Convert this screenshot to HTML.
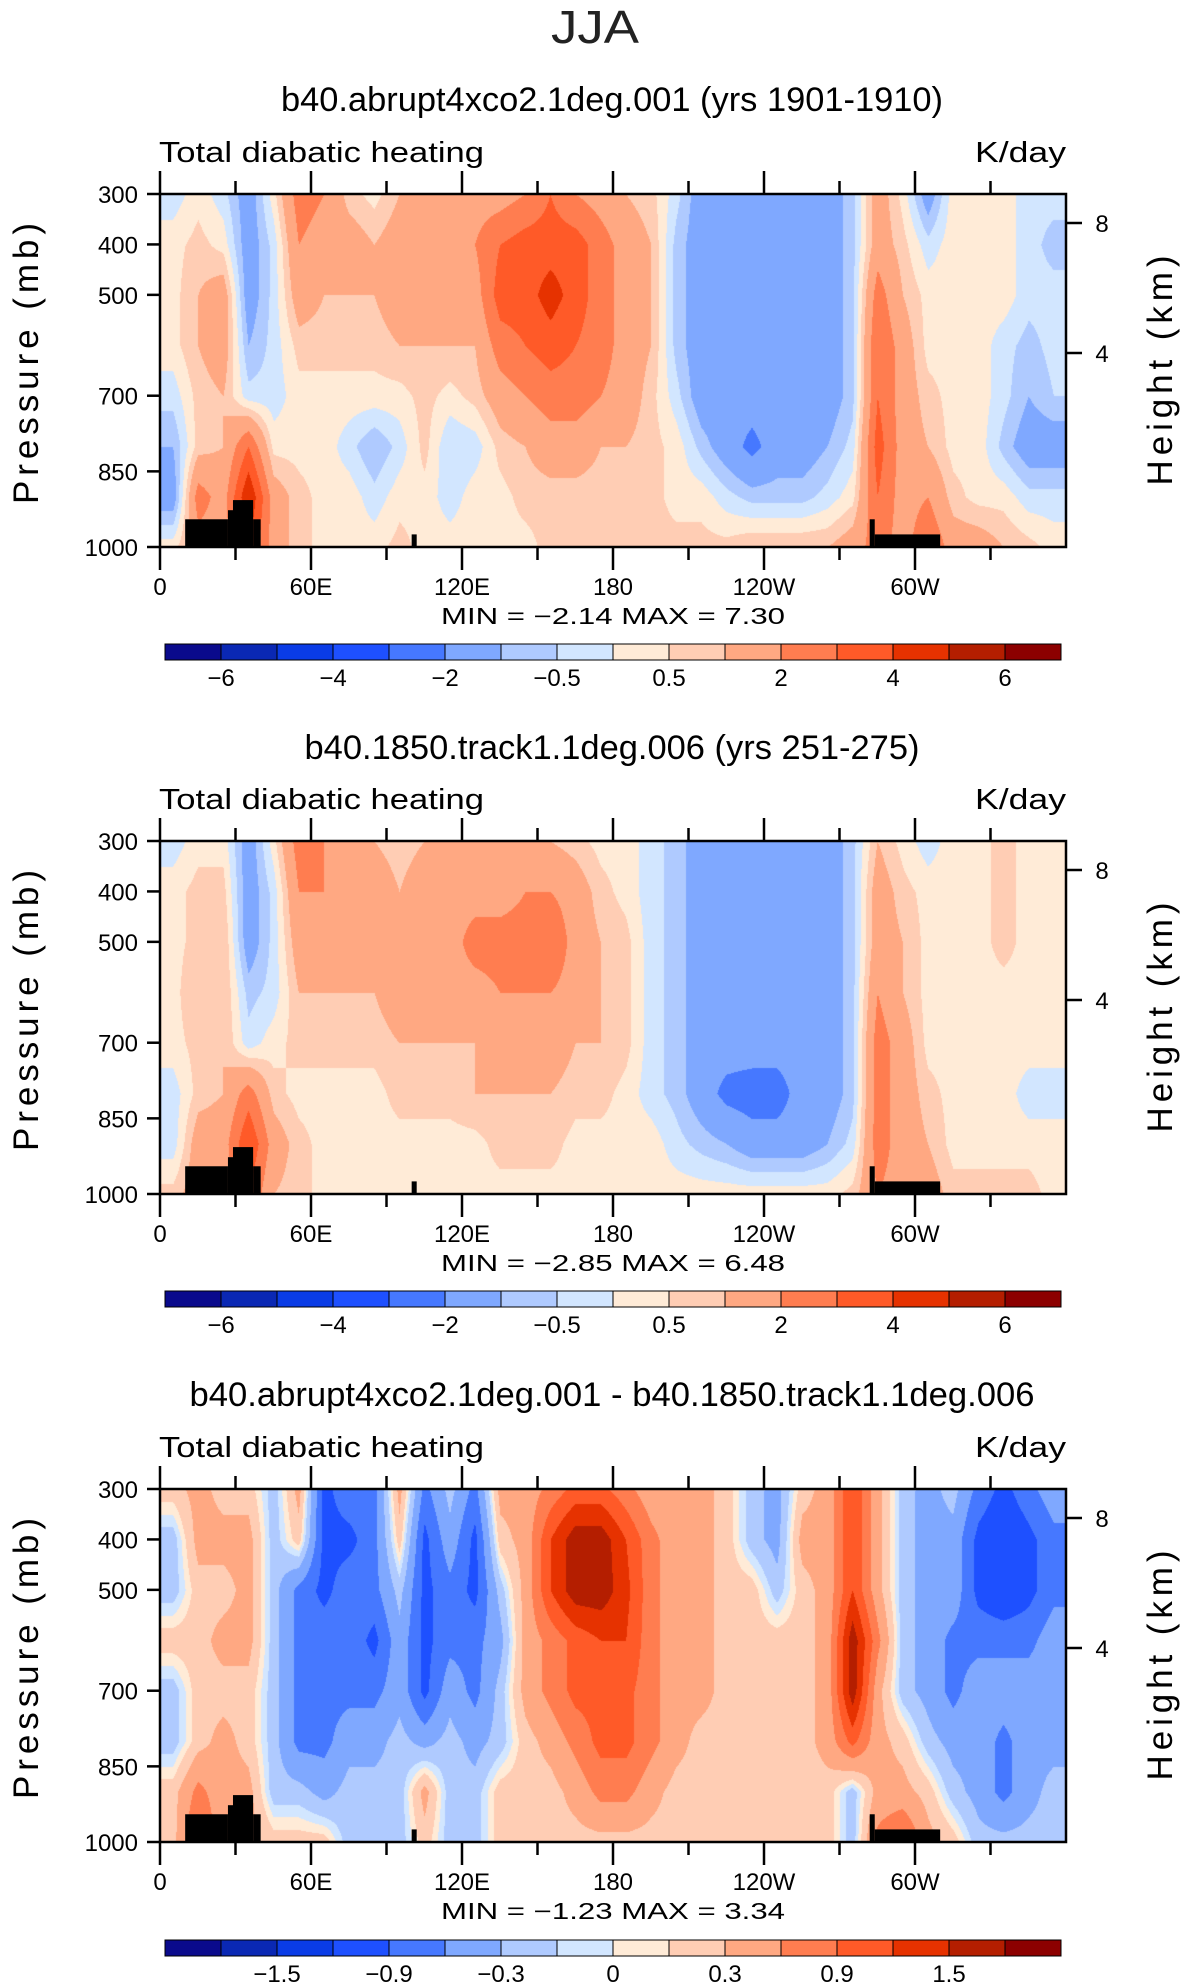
<!DOCTYPE html>
<html><head><meta charset="utf-8"><style>
html,body{margin:0;padding:0;background:#fff;}
#wrap{position:relative;width:1190px;height:1987px;overflow:hidden;}
canvas{position:absolute;}
svg{position:absolute;left:0;top:0;}
text{font-family:"Liberation Sans",sans-serif;}
</style></head><body>
<div id="wrap">
<canvas id="c0" width="906" height="353" style="left:160px;top:194px"></canvas>
<canvas id="c1" width="906" height="353" style="left:160px;top:841px"></canvas>
<canvas id="c2" width="906" height="353" style="left:160px;top:1489px"></canvas>
<svg id="svg" width="1190" height="1987"></svg>
</div>
<script>
const lons=[5,15,25,35,45,55,65,75,85,95,105,115,125,135,145,155,165,175,185,195,205,215,225,235,245,255,265,275,285,295,305,315,325,335,345,355];
const plevs=[300,400,500,600,700,800,900,1000];
const field1=[
[-0.3,0.3,0.3,0.3,-0.3,-1,-1.5,0.3],[0.3,0.7,1,1,0.7,0.7,2.5,1.5],[-0.3,0.3,1.5,1.5,1,1,1.5,1.5],[-1.5,-1.5,-1.5,-1,-0.3,3,5,4],
[0.3,-0.3,-0.3,-0.3,-0.3,0.3,1.5,1.5],[2.5,2,1.5,0.7,0.3,0.3,0.7,0.7],[2,1.5,1,0.7,0.3,0.3,0.3,0.3],[0.7,1.5,1,0.7,0.3,-0.3,0.3,0.3],
[0.3,1,1,0.7,0.3,-1,-0.3,0.3],[1,1.5,1.5,1,0.3,-0.3,0.3,0.7],[1,1.5,1.5,1,0.7,0.7,0.3,0.3],[1,1.5,1.5,1,0.3,-0.5,-0.3,0.3],
[1.5,2,1.5,1,0.7,-0.3,0.3,0.3],[1.5,3,3.5,2.5,1.5,0.7,0.3,0.3],[2,3.5,3.5,3,2,1,0.7,0.3],[3,3.5,4.5,3.5,2.5,1.5,0.7,0.7],
[2,3.5,3.5,3,2.5,1.5,0.7,0.7],[1.5,2.5,2.5,2.5,2,1,0.7,0.7],[1,1.5,1.5,1.5,1.5,1,0.7,0.7],[0.7,1,1,1,0.7,0.7,0.7,0.7],
[-0.3,-0.7,-0.7,-0.7,-0.3,0.3,0.3,0.7],[-1.5,-1.5,-1.5,-1.5,-1.5,-0.7,0.3,0.7],[-1.5,-1.5,-1.5,-1.5,-1.5,-1.5,-0.3,0.7],[-1.5,-1.5,-1.5,-1.5,-1.5,-2.3,-0.7,1],
[-1.5,-1.5,-1.5,-1.5,-1.5,-1.5,-0.7,1],[-1.5,-1.5,-1.5,-1.5,-1.5,-1.5,-0.7,1],[-1.5,-1.5,-1.5,-1.5,-1.5,-1,-0.3,1],[-0.7,-0.7,-0.7,-0.7,-0.7,-0.3,0.3,1.5],
[1.5,1.5,2.5,3,3,3.5,3,2.5],[0.3,0.7,1,1.5,1.5,1.5,1.5,1.5],[-1.5,-0.3,0.3,0.3,0.7,1,2,3],[0.3,0.3,0.3,0.3,0.3,0.3,0.7,1.5],
[0.3,0.3,0.3,0.3,0.3,0.3,0.3,1.5],[0.3,0.3,0.3,-0.3,-0.3,-0.7,0.3,1],[-0.3,-0.3,-0.3,-0.7,-1,-1.5,-0.3,0.7],[-0.3,-0.7,-0.3,-0.3,-0.5,-1.5,-0.3,0.3]];
const field2=[
[-0.3,0.3,0.3,0.3,0.3,-0.3,-0.3,0.7],[0.3,0.7,0.7,1,0.7,0.7,1.5,1.5],[0.3,0.7,1,1,1,1,1.5,1.5],[-1.5,-1.5,-1.5,-0.7,-0.3,2.5,4,3],
[0.3,-0.3,-0.3,-0.3,0.3,0.7,1.5,1],[2.5,2,1.5,1,0.7,0.3,0.7,0.7],[2,2,1.5,1,0.7,0.3,0.3,0.3],[1.5,1.5,1.5,1,0.7,0.3,0.3,0.3],
[1,1.5,1.5,1,0.7,0.3,0.3,0.3],[0.7,1,1.5,1.5,1,0.7,0.3,0.3],[1,1.5,1.5,1.5,1,0.7,0.3,0.3],[1,1.5,1.5,1.5,1,0.7,0.3,0.3],
[1,1.5,2.5,1.5,1,1,0.3,0.3],[1,1.5,2.5,2,1.5,1,0.7,0.3],[1,2,2.5,2,1.5,1,0.7,0.3],[1,2,3,2,1.5,1,0.7,0.3],
[0.7,1.5,1.5,1.5,1,0.7,0.3,0.3],[0.3,0.7,1,1,1,0.7,0.3,0.3],[0.3,0.3,0.7,0.7,0.7,0.3,0.3,0.3],[-0.3,-0.3,-0.3,-0.3,-0.3,-0.3,0.3,0.3],
[-0.7,-0.7,-0.7,-0.7,-0.7,-0.7,-0.3,0.3],[-1.5,-1.5,-1.5,-1.5,-1.5,-1.5,-0.7,0.3],[-1.5,-1.5,-1.5,-1.5,-1.5,-2.3,-1,0.3],[-1.5,-1.5,-1.5,-1.5,-1.5,-2.5,-1.5,0.3],
[-1.5,-1.5,-1.5,-1.5,-1.5,-2.5,-1.5,0.3],[-1.5,-1.5,-1.5,-1.5,-1.5,-1.5,-1.5,0.3],[-1.5,-1.5,-1.5,-1.5,-1.5,-1.5,-1,0.3],[-0.7,-0.7,-0.7,-0.7,-0.7,-0.7,-0.3,0.7],
[1,1.5,1.5,2,2.5,2.5,2.5,2],[0.3,0.7,1,1,1.5,1.5,1.5,1.5],[-0.3,0.3,0.3,0.3,0.3,0.7,1,1.5],[0.3,0.3,0.3,0.3,0.3,0.3,0.3,0.7],
[0.3,0.3,0.3,0.3,0.3,0.3,0.3,0.7],[0.7,0.7,0.7,0.3,0.3,0.3,0.3,0.7],[0.3,0.3,0.3,0.3,0.3,-0.3,0.3,0.7],[0.3,0.3,0.3,0.3,0.3,-0.3,0.3,0.3]];
const field3=[
[0.2,-0.2,-0.2,0.2,-0.2,-0.2,0.2,0.2],[0.4,0.4,0.2,0.2,0.2,0.2,0.7,1.0],[0.2,0.4,0.2,0.4,0.2,0.4,0.4,0.4],[0.2,0.4,0.4,0.4,0.2,0.2,0.4,0.4],
[-0.2,-0.2,-0.2,-0.2,-0.2,-0.2,-0.2,0.2],[0.4,0.2,-0.7,-0.7,-0.7,-0.7,-0.2,0.2],[-1.0,-1.0,-1.0,-0.7,-0.7,-0.7,-0.4,0.2],[-0.7,-1.0,-0.7,-0.7,-0.7,-0.4,-0.2,-0.2],
[-0.7,-0.7,-0.7,-1.0,-0.7,-0.4,-0.2,-0.2],[0.4,0.2,-0.2,-0.4,-0.4,-0.2,-0.2,-0.2],[-0.7,-1.0,-1.0,-1.0,-1.0,-0.4,0.4,0.2],[-0.2,-0.4,-0.7,-0.7,-0.4,-0.2,-0.2,-0.2],
[-0.7,-1.0,-1.0,-0.7,-0.7,-0.4,-0.2,-0.2],[0.4,0.2,-0.2,-0.4,-0.2,-0.2,0.2,0.2],[0.4,0.4,0.4,0.4,0.4,0.2,0.2,0.2],[0.7,1.2,1.2,0.7,0.7,0.4,0.2,0.2],
[1.0,1.7,1.7,1.0,1.0,0.7,0.4,0.2],[1.0,1.7,1.7,1.2,1.0,1.0,0.7,0.2],[0.7,1.2,1.3,1.2,1.0,1.0,0.7,0.2],[0.4,0.7,0.7,0.7,0.7,0.7,0.4,0.2],
[0.4,0.4,0.4,0.4,0.4,0.4,0.2,0.2],[0.4,0.4,0.4,0.4,0.4,0.2,0.2,0.2],[0.2,0.2,0.2,0.2,0.2,0.2,0.2,0.2],[-0.2,-0.2,0.2,0.2,0.2,0.2,0.2,0.2],
[-0.4,-0.4,-0.2,0.2,0.2,0.2,0.2,0.2],[0.2,0.4,0.2,0.2,0.2,0.2,0.2,0.2],[0.4,0.4,0.4,0.4,0.4,0.4,0.2,0.2],[1.2,1.2,1.2,1.7,1.7,1.0,-0.2,-0.2],
[0.4,0.4,0.4,0.7,0.4,0.4,0.4,0.7],[-0.2,-0.2,-0.2,-0.2,-0.2,0.2,0.4,1.0],[-0.4,-0.4,-0.4,-0.4,-0.4,-0.2,0.2,0.4],[-0.2,-0.4,-0.4,-0.7,-0.7,-0.4,-0.2,0.2],
[-0.7,-1.0,-1.0,-0.7,-0.4,-0.4,-0.4,-0.2],[-1.0,-1.2,-1.2,-0.7,-0.4,-0.7,-0.7,-0.2],[-0.7,-1.0,-1.0,-0.7,-0.4,-0.4,-0.4,-0.2],[-0.4,-0.7,-0.7,-0.4,-0.4,-0.4,-0.2,-0.2]];
const levels12=[-6,-5,-4,-3,-2,-1,-0.5,0,0.5,1,2,3,4,5,6];
const levels3=[-1.8,-1.5,-1.2,-0.9,-0.6,-0.3,-0.1,0,0.1,0.3,0.6,0.9,1.2,1.5,1.8];
const cbLabels12=["−6","−4","−2","−0.5","0.5","2","4","6"];
const cbLabels3=["−1.5","−0.9","−0.3","0","0.3","0.9","1.5"];
const titles=["b40.abrupt4xco2.1deg.001 (yrs 1901-1910)","b40.1850.track1.1deg.006 (yrs 251-275)","b40.abrupt4xco2.1deg.001 - b40.1850.track1.1deg.006"];
const minVals=["−2.14","−2.85","−1.23"];
const maxVals=["7.30","6.48","3.34"];
const topoLon=[[10,27,945],[27,30,927],[29,37,907],[37,40,945],[100,102,975],[282,284,945],[284,310,975]];
const xTickVals=[0,60,120,180,240,300];
const xTickLabels=["0","60E","120E","180","120W","60W"];
const pTicks=[300,400,500,700,850,1000];
const hTicks=[8,4];
const colors=["#0a0a8c","#0a28b4","#0a3ce6","#1e50ff","#4678ff","#7fa8ff","#afcaff","#d2e6ff","#ffebd7","#ffcdb4","#ffa882","#ff7d50","#ff5a28","#e63200","#b41e00","#8c0000"];

const PL=160,PW=906,PH=353,tops=[194,841,1489];
const xs=lon=>PL+lon/360*PW;
const ys=(p,t)=>t+(p-300)/700*PH;
const hy=(h,t)=>t+(h===8?29:159);
function rgb(h){return [parseInt(h.slice(1,3),16),parseInt(h.slice(3,5),16),parseInt(h.slice(5,7),16)];}
const crgb=colors.map(rgb);
function sample(f,lon,p){
  let fi=(lon-5)/10; fi=Math.max(0,Math.min(lons.length-1,fi));
  let fj=(p-300)/100; fj=Math.max(0,Math.min(plevs.length-1,fj));
  const i0=Math.floor(fi),i1=Math.min(i0+1,lons.length-1),j0=Math.floor(fj),j1=Math.min(j0+1,plevs.length-1);
  const a=fi-i0,b=fj-j0;
  return (f[i0][j0]*(1-a)+f[i1][j0]*a)*(1-b)+(f[i0][j1]*(1-a)+f[i1][j1]*a)*b;
}
function drawField(id,f,lv){
  const c=document.getElementById(id),ctx=c.getContext('2d');
  const im=ctx.createImageData(PW,PH);
  for(let y=0;y<PH;y++){const p=300+y/PH*700;
    for(let x=0;x<PW;x++){const lon=x/PW*360;
      const v=sample(f,lon,p);let k=0;while(k<lv.length&&v>=lv[k])k++;
      const col=crgb[k],o=(y*PW+x)*4;im.data[o]=col[0];im.data[o+1]=col[1];im.data[o+2]=col[2];im.data[o+3]=255;}}
  ctx.putImageData(im,0,0);
}
drawField('c0',field1,levels12);drawField('c1',field2,levels12);drawField('c2',field3,levels3);

const svg=document.getElementById('svg');const NS='http://www.w3.org/2000/svg';
function el(tag,attrs,txt){const e=document.createElementNS(NS,tag);for(const k in attrs)e.setAttribute(k,attrs[k]);if(txt!==undefined)e.textContent=txt;svg.appendChild(e);return e;}
let e=el('text',{x:595,y:43,'text-anchor':'middle','font-size':46,fill:'#222',textLength:88,lengthAdjust:'spacingAndGlyphs'},'JJA');


const titleY=[111,759,1406],titleW=[662,615,845],cbY=[644,1291,1940];
for(let n=0;n<3;n++){
  const t=tops[n],B=t+PH,lv=n<2?levels12:levels3,cl=n<2?cbLabels12:cbLabels3;
  e=el('text',{x:612,y:titleY[n],'text-anchor':'middle','font-size':34,fill:'#000',textLength:titleW[n],lengthAdjust:'spacingAndGlyphs'},titles[n]);
  
  
  e=el('text',{x:159,y:t-32,'font-size':29,fill:'#000',textLength:325,lengthAdjust:'spacingAndGlyphs'},'Total diabatic heating');
  
  
  e=el('text',{x:975,y:t-32,'font-size':29,fill:'#000',textLength:91,lengthAdjust:'spacingAndGlyphs'},'K/day');
  
  
  topoLon.forEach(r=>{const tr=el('rect',{x:xs(r[0]),y:ys(r[2],t),width:xs(r[1])-xs(r[0]),height:B-ys(r[2],t),fill:'#000'});
    
    });
  e=el('rect',{x:PL,y:t,width:PW,height:PH,fill:'none',stroke:'#000','stroke-width':2.5});
  
  
  for(let lon=0;lon<=330;lon+=30){const major=lon%60===0,L=major?23:13;
    const tk=el('line',{x1:xs(lon),x2:xs(lon),y1:B,y2:B+L,stroke:'#000','stroke-width':2.5});
    
    
    const tk2=el('line',{x1:xs(lon),x2:xs(lon),y1:t,y2:t-L,stroke:'#000','stroke-width':2.5});
    
    }
  xTickVals.forEach((v,i)=>{const tl=el('text',{x:xs(v),y:B+48,'text-anchor':'middle','font-size':24,fill:'#000'},xTickLabels[i]);
    
    });
  pTicks.forEach(p=>{const tk=el('line',{x1:PL-13,x2:PL,y1:ys(p,t),y2:ys(p,t),stroke:'#000','stroke-width':2.5});
    
    
    const tl=el('text',{x:PL-22,y:ys(p,t)+9,'text-anchor':'end','font-size':24,fill:'#000'},String(p));
    
    });
  hTicks.forEach(h=>{const tk=el('line',{x1:PL+PW,x2:PL+PW+16,y1:hy(h,t),y2:hy(h,t),stroke:'#000','stroke-width':2.5});
    
    
    const tl=el('text',{x:PL+PW+36,y:hy(h,t)+9,'text-anchor':'middle','font-size':24,fill:'#000'},String(h));
    
    });
  e=el('text',{x:0,y:0,'text-anchor':'middle','font-size':35,fill:'#000',textLength:281,lengthAdjust:'spacing',transform:`translate(38,${t+PH/2-7}) rotate(-90)`},'Pressure (mb)');
  
  
  e=el('text',{x:0,y:0,'text-anchor':'middle','font-size':35,fill:'#000',textLength:230,lengthAdjust:'spacing',transform:`translate(1172,${t+PH/2}) rotate(-90)`},'Height (km)');
  
  
  e=el('text',{x:441,y:B+77,'font-size':23,fill:'#000','xml:space':'preserve',textLength:344,lengthAdjust:'spacingAndGlyphs'},`MIN =   ${minVals[n]}   MAX =    ${maxVals[n]}`);
  
  
  const cx0=165,cw=(1061-165)/16,cy=cbY[n];
  colors.forEach((c,k)=>{const r=el('rect',{x:cx0+k*cw,y:cy,width:cw,height:16,fill:c,stroke:'#000','stroke-width':1});
    
    });
  cl.forEach((s,i)=>{const k=n<2?1+2*i:2+2*i;
    const tl=el('text',{x:cx0+k*cw,y:cy+42,'text-anchor':'middle','font-size':24,fill:'#000'},s);
    
    });
}
</script>
</body></html>
